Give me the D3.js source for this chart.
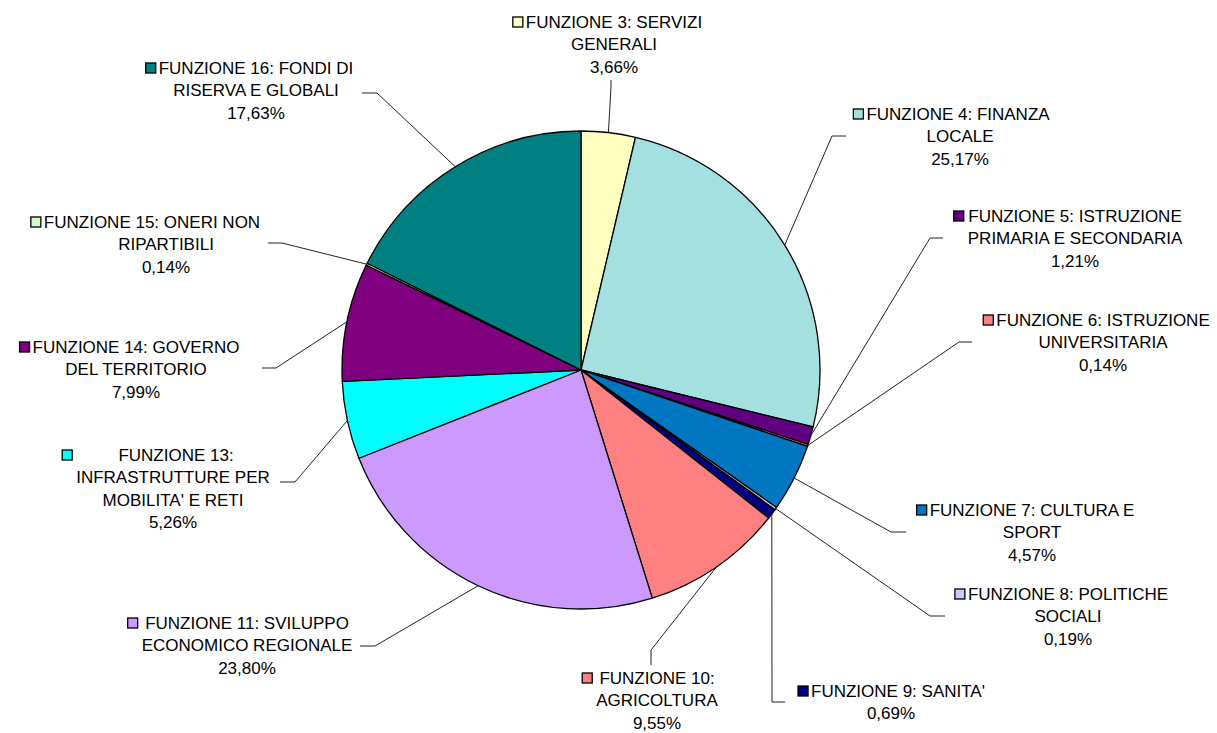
<!DOCTYPE html>
<html>
<head>
<meta charset="utf-8">
<script src="https://cdn.jsdelivr.net/npm/d3@7"></script>
<style>
  body { margin: 0; background: #fff; }
  svg { display: block; }
  text { font-family: "Liberation Sans", Arial, sans-serif; font-size: 17px; fill: #000; }
</style>
</head>
<body>
<div id="chart"></div>
<script>
// slices, clockwise from 12 o'clock
var categories = [
    ["FUNZIONE 3: SERVIZI", "GENERALI"],
    ["FUNZIONE 4: FINANZA", "LOCALE"],
    ["FUNZIONE 5: ISTRUZIONE", "PRIMARIA E SECONDARIA"],
    ["FUNZIONE 6: ISTRUZIONE", "UNIVERSITARIA"],
    ["FUNZIONE 7: CULTURA E", "SPORT"],
    ["FUNZIONE 8: POLITICHE", "SOCIALI"],
    ["FUNZIONE 9: SANITA'"],
    ["FUNZIONE 10:", "AGRICOLTURA"],
    ["FUNZIONE 11: SVILUPPO", "ECONOMICO REGIONALE"],
    ["FUNZIONE 13:", "INFRASTRUTTURE PER", "MOBILITA' E RETI"],
    ["FUNZIONE 14: GOVERNO", "DEL TERRITORIO"],
    ["FUNZIONE 15: ONERI NON", "RIPARTIBILI"],
    ["FUNZIONE 16: FONDI DI", "RISERVA E GLOBALI"]
];
var values = [3.66, 25.17, 1.21, 0.14, 4.57, 0.19, 0.69, 9.55, 23.80, 5.26, 7.99, 0.14, 17.63];
var colors = ["#FFFFC0", "#A5E0E0", "#600080", "#FF8080", "#0077C0", "#C8C8FF", "#000080",
              "#FF8080", "#CC99FF", "#00FFFF", "#800080", "#CCFFCC", "#008080"];

// label placement: cx = centre of text block, y = middle of first line,
// dx1 = shift of first line, elbow/end = leader line bend and end point
var labelLayout = [
    {cx: 614,  y: 22,  dx1: 0,   elbow: [611, 87],  end: [611, 80]},
    {cx: 960,  y: 114, dx1: -2,  elbow: [832, 136], end: [846, 136]},
    {cx: 1075, y: 216, dx1: 0,   elbow: [930, 238], end: [943, 238]},
    {cx: 1103, y: 320, dx1: 0,   elbow: [959, 342], end: [972, 342]},
    {cx: 1032, y: 510, dx1: 0,   elbow: [891, 532], end: [906, 532]},
    {cx: 1068, y: 594, dx1: 0,   elbow: [930, 616], end: [945, 616]},
    {cx: 891,  y: 691, dx1: 7,   elbow: [772, 702], end: [785, 702]},
    {cx: 657,  y: 678, dx1: 0,   elbow: [651, 650], end: [651, 665]},
    {cx: 247,  y: 623, dx1: 0,   elbow: [375, 646], end: [360, 646]},
    {cx: 173,  y: 455, dx1: 3,   elbow: [295, 482], end: [280, 482]},
    {cx: 136,  y: 347, dx1: 0,   elbow: [276, 368], end: [262, 368]},
    {cx: 166,  y: 222, dx1: -14, elbow: [282, 243], end: [268, 243]},
    {cx: 256,  y: 68,  dx1: 0,   elbow: [377, 93],  end: [362, 93]}
];

var width = 1217, height = 733;
var cx = 581, cy = 370, radius = 239;
var lineH = 22.4;

var svg = d3.select("#chart")
    .append("svg")
    .attr("width", width)
    .attr("height", height);

var data = values.map(function(v, i) {
    return {value: v, lines: categories[i], color: colors[i], layout: labelLayout[i]};
});

var pie = d3.pie()
    .sort(null)
    .value(function(d) { return d.value; });

var arc = d3.arc()
    .innerRadius(0)
    .outerRadius(radius);

var arcs = pie(data);

var fmt = d3.format(".2f");
function pct(v) { return fmt(v).replace(".", ",") + "%"; }

var pieG = svg.append("g")
    .attr("transform", "translate(" + cx + "," + cy + ")");

pieG.selectAll("path")
    .data(arcs)
    .enter()
    .append("path")
    .attr("d", arc)
    .attr("fill", function(d) { return d.data.color; })
    .attr("stroke", "#000")
    .attr("stroke-width", 1.3)
    .attr("stroke-linejoin", "round");

// leader lines
svg.append("g").selectAll("polyline")
    .data(arcs)
    .enter()
    .append("polyline")
    .attr("points", function(d) {
        var a = (d.startAngle + d.endAngle) / 2;
        var p = [cx + radius * Math.sin(a), cy - radius * Math.cos(a)];
        var L = d.data.layout;
        return [p, L.elbow, L.end].map(function(q) { return q.join(","); }).join(" ");
    })
    .attr("fill", "none")
    .attr("stroke", "#222")
    .attr("stroke-width", 1);

// labels
var labels = svg.append("g").selectAll("g")
    .data(arcs)
    .enter()
    .append("g");

labels.each(function(d) {
    var g = d3.select(this);
    var L = d.data.layout;
    var lines = d.data.lines.concat([pct(d.data.value)]);
    var restW = 0, firstLeft = 0;
    lines.forEach(function(t, j) {
        var x = j == 0 ? L.cx + L.dx1 : L.cx;
        var txt = g.append("text")
            .attr("x", x)
            .attr("y", L.y + j * lineH + 6)
            .attr("text-anchor", "middle")
            .text(t);
        var w = txt.node().getComputedTextLength();
        if (j == 0) firstLeft = x - w / 2;
        else if (w > restW) restW = w;
    });
    // key sits left of the first line, or left of the whole block if a later line is wider
    var mRight = Math.min(firstLeft - 3, L.cx - restW / 2 - 4);
    g.append("rect")
        .attr("x", mRight - 10)
        .attr("y", L.y - 5)
        .attr("width", 10)
        .attr("height", 10)
        .attr("fill", d.data.color)
        .attr("stroke", "#000")
        .attr("stroke-width", 1.3);
});
</script>
</body>
</html>
